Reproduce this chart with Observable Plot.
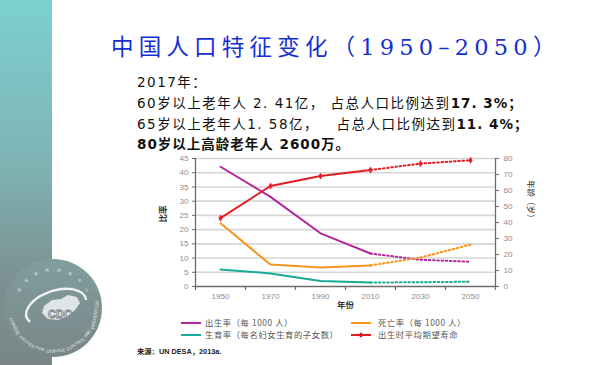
<!DOCTYPE html>
<html>
<head>
<meta charset="utf-8">
<script src="https://cdn.jsdelivr.net/npm/d3@7"></script>
<script src="https://cdn.jsdelivr.net/npm/@observablehq/plot@0.6"></script>
<style>
  html, body { margin: 0; padding: 0; background: #fff; }
  #page { position: relative; width: 600px; height: 365px; overflow: hidden; background: #fff; font-family: "Noto Sans CJK SC", "Noto Sans", sans-serif; }
  #band { position: absolute; left: 0; top: 0; width: 52px; height: 365px; background: linear-gradient(to bottom, #7dd0d1 0%, #7fb3b4 45%, #7c9293 75%, #7a8686 100%); }
  #logo { position: absolute; left: 0; top: 250px; }
  #title { position: absolute; left: 111px; top: 28px; font-size: 22.5px; letter-spacing: 5.2px; color: #1530d0; white-space: nowrap; font-family: "DejaVu Serif", "Noto Sans CJK SC", serif; line-height: 34px; }
  #title .cjk { font-family: "Noto Sans CJK SC", sans-serif; }
  #facts { position: absolute; left: 137px; top: 72px; font-size: 13.5px; line-height: 20.8px; color: #111; letter-spacing: 1.5px; white-space: pre; font-family: "DejaVu Sans", "Noto Sans CJK SC", sans-serif; }
  #facts b { font-weight: 700; letter-spacing: 1px; }
  #chart { position: absolute; left: 150px; top: 150px; }
  .leg { position: absolute; font-size: 8.3px; color: #555; white-space: nowrap; letter-spacing: 0.6px; line-height: 12px; }
  .sw { position: absolute; width: 20px; height: 2px; }
  #source { position: absolute; left: 137px; top: 346px; font-size: 7.3px; color: #222; font-weight: 700; white-space: nowrap; font-family: "Liberation Sans", "Noto Sans CJK SC", sans-serif; }
</style>
</head>
<body>
<div id="page">
  <div id="band"></div>
  <svg id="logo" width="110" height="115" viewBox="0 0 110 115">
    <defs>
      <linearGradient id="lg" x1="0" y1="0" x2="0" y2="1">
        <stop offset="0" stop-color="#809d9e"/>
        <stop offset="1" stop-color="#7a8788"/>
      </linearGradient>
    </defs>
    <circle cx="53" cy="58" r="49" fill="url(#lg)"/>
    <g id="rim"></g>
    <path d="M 30 72 A 31 17 -18 1 1 86 50" fill="none" stroke="#eef2f2" stroke-width="2.4"/>
    <path d="M 44 56 L 52 50 L 61 49 L 68 45 L 77 47 L 80 53 L 75 60 L 68 66 L 58 70 L 48 69 L 42 63 Z" fill="#eef2f2" opacity="0.85"/>
    <text x="60" y="68" font-size="11" font-weight="700" text-anchor="middle" fill="#ffffff" stroke="#71818a" stroke-width="0.9" font-family="Liberation Sans, sans-serif">CDC</text>
  </svg>

  <div id="title"><span class="cjk">中国人口特征变化（</span>1950–2050<span class="cjk">）</span></div>
  <div id="facts">2017年：
60岁以上老年人 2. 41亿， 占总人口比例达到<b>17. 3%；</b>
65岁以上老年人1. 58亿，   占总人口比例达到<b>11. 4%；</b>
<b>80岁以上高龄老年人 2600万。</b></div>

  <div id="chart"></div>

  <div class="sw" style="left:181px; top:322px; background:#b2289a"></div>
  <div class="leg" style="left:205px; top:316px">出生率（每 1000 人）</div>
  <div class="sw" style="left:351px; top:322px; background:#f7941d"></div>
  <div class="leg" style="left:378px; top:316px">死亡率（每 1000 人）</div>
  <div class="sw" style="left:181px; top:334px; background:#1aaa98"></div>
  <div class="leg" style="left:205px; top:328px">生育率（每名妇女生育的子女数）</div>
  <div class="sw" style="left:351px; top:334px; background:#e31d25"></div>
  <div style="position:absolute; left:359px; top:333px; width:4px; height:4px; background:#e31d25; transform:rotate(45deg)"></div>
  <div class="leg" style="left:378px; top:328px">出生时平均期望寿命</div>

  <div id="source">来源：UN DESA，2013a.</div>
</div>

<script>
// ---- data ----
const years = [1950, 1970, 1990, 2010, 2030, 2050];
const birthRate = [42.1, 31.5, 18.7, 11.6, 9.4, 8.7];     // per 1000
const deathRate = [22.2, 7.7, 6.7, 7.4, 10.2, 14.7];      // per 1000
const fertility = [6.0, 4.6, 1.9, 1.4, 1.5, 1.7];         // children per woman
const lifeExp   = [42.7, 62.8, 69.0, 72.8, 76.8, 78.9];   // years (right axis)
const leftTicks = [0, 5, 10, 15, 20, 25, 30, 35, 40, 45];
const rightTicks = [0, 10, 20, 30, 40, 50, 60, 70, 80];
const yearLabels = [1950, 1970, 1990, 2010, 2030, 2050];
const yearBounds = [1940, 1960, 1980, 2000, 2020, 2040, 2060];
const lastObserved = 2010;

// logo rim words (decoration)
const rimWordsEn = ["CHINESE", "CENTER", "FOR", "DISEASE", "CONTROL", "AND", "PREVENTION"];
const rimCharsZh = ["国", "家", "疾", "病", "控", "制", "中", "心"];

(function drawRim() {
  const ns = "http://www.w3.org/2000/svg";
  const g = document.getElementById("rim");
  const cx = 53, cy = 58;
  // bottom: words along the lower arc, tops toward centre
  const total = rimWordsEn.reduce((a, w) => a + w.length + 1.5, 0);
  const start = 166, end = -12; // degrees (SVG angle, 90 = down)
  let acc = 0;
  rimWordsEn.forEach(w => {
    const mid = acc + w.length / 2;
    acc += w.length + 1.5;
    const th = start + (end - start) * (mid / total);
    const r = 43;
    const rad = th * Math.PI / 180;
    const x = cx + r * Math.cos(rad), y = cy + r * Math.sin(rad);
    const t = document.createElementNS(ns, "text");
    t.setAttribute("transform", `translate(${x.toFixed(1)},${y.toFixed(1)}) rotate(${(th - 90).toFixed(1)})`);
    t.setAttribute("text-anchor", "middle");
    t.setAttribute("dominant-baseline", "middle");
    t.setAttribute("font-size", "4.3");
    t.setAttribute("fill", "#e3e9e9");
    t.setAttribute("font-family", "Liberation Sans, sans-serif");
    t.textContent = w;
    g.appendChild(t);
  });
  // top: Chinese characters along upper arc
  rimCharsZh.forEach((c, i) => {
    const th = -152 + i * (124 / (rimCharsZh.length - 1));
    const r = 38;
    const rad = th * Math.PI / 180;
    const x = cx + r * Math.cos(rad), y = cy + r * Math.sin(rad);
    const t = document.createElementNS(ns, "text");
    t.setAttribute("transform", `translate(${x.toFixed(1)},${y.toFixed(1)}) rotate(${(th + 90).toFixed(1)})`);
    t.setAttribute("text-anchor", "middle");
    t.setAttribute("dominant-baseline", "middle");
    t.setAttribute("font-size", "3.6");
    t.setAttribute("fill", "#e3e9e9");
    t.textContent = c;
    g.appendChild(t);
  });
})();

const leftMax = 45, rightMax = 80;
const toLeft = v => v * leftMax / rightMax;

const series = [
  {key: "birth", values: birthRate, color: "#b2289a", scale: 1},
  {key: "death", values: deathRate, color: "#f7941d", scale: 1},
  {key: "fert",  values: fertility, color: "#1aaa98", scale: 1},
  {key: "life",  values: lifeExp,   color: "#e31d25", scale: leftMax / rightMax}
];
const rows = series.flatMap(s => years.map((yr, i) => ({key: s.key, year: yr, v: s.values[i] * s.scale, color: s.color})));
const observed = rows.filter(d => d.year <= lastObserved);
const projected = rows.filter(d => d.year >= lastObserved);
const lifeRows = rows.filter(d => d.key === "life");

const axisColor = "#6b6b6b";
const labelColor = "#8c8c8c";

const chart = Plot.plot({
  width: 400,
  height: 165,
  marginLeft: 45,
  marginRight: 55,
  marginTop: 8,
  marginBottom: 29,
  style: {background: "transparent", fontFamily: "Liberation Sans, Noto Sans CJK SC, sans-serif", fontSize: "8px", overflow: "visible"},
  x: {domain: [1940, 2060], type: "linear"},
  y: {domain: [0, leftMax], type: "linear"},
  marks: [
    Plot.gridY(leftTicks.filter(t => t > 0), {stroke: "#d6d6d6", strokeOpacity: 1, strokeWidth: 1.6}),
    // left axis
    Plot.axisY(leftTicks, {anchor: "left", tickSize: 3, tickPadding: 4, stroke: axisColor, fill: labelColor, label: null}),
    // right axis (life expectancy, mapped onto left scale)
    Plot.axisY(rightTicks.map(toLeft), {anchor: "right", tickSize: 3, tickPadding: 5, stroke: axisColor, fill: labelColor, tickFormat: d => Math.round(d * rightMax / leftMax), label: null}),
    // x axis labels and boundary ticks
    Plot.axisX(yearLabels, {anchor: "bottom", tickSize: 0, tickPadding: 7, fill: labelColor, tickFormat: d => String(d), label: null}),
    Plot.axisX(yearBounds, {anchor: "bottom", tickSize: 4, stroke: axisColor, strokeWidth: 1.2, tickFormat: () => "", label: null}),
    Plot.ruleX([yearBounds[0], yearBounds[yearBounds.length - 1]], {stroke: axisColor, strokeWidth: 1.3}),
    Plot.ruleY([0], {stroke: axisColor, strokeWidth: 1.3}),
    // series lines
    Plot.line(observed, {x: "year", y: "v", z: "key", stroke: "color", strokeWidth: 2}),
    Plot.line(projected, {x: "year", y: "v", z: "key", stroke: "color", strokeWidth: 2, strokeDasharray: "1.6,2.6"}),
    Plot.dot(lifeRows, {x: "year", y: "v", symbol: "diamond", r: 1.9, fill: "#e31d25", stroke: "#e31d25", strokeWidth: 0.5}),
    // axis titles
    Plot.text(["比率"], {frameAnchor: "left", dx: -32, rotate: -90, fontWeight: 700, fill: "#333", fontSize: 8.5}),
    Plot.text(["年龄（岁）"], {frameAnchor: "right", dx: 35, rotate: 90, fill: "#333", fontSize: 8.5}),
    Plot.text(["年份"], {frameAnchor: "bottom", dy: 21, fontWeight: 700, fill: "#333", fontSize: 8.5})
  ]
});
document.getElementById("chart").appendChild(chart);
</script>
</body>
</html>
